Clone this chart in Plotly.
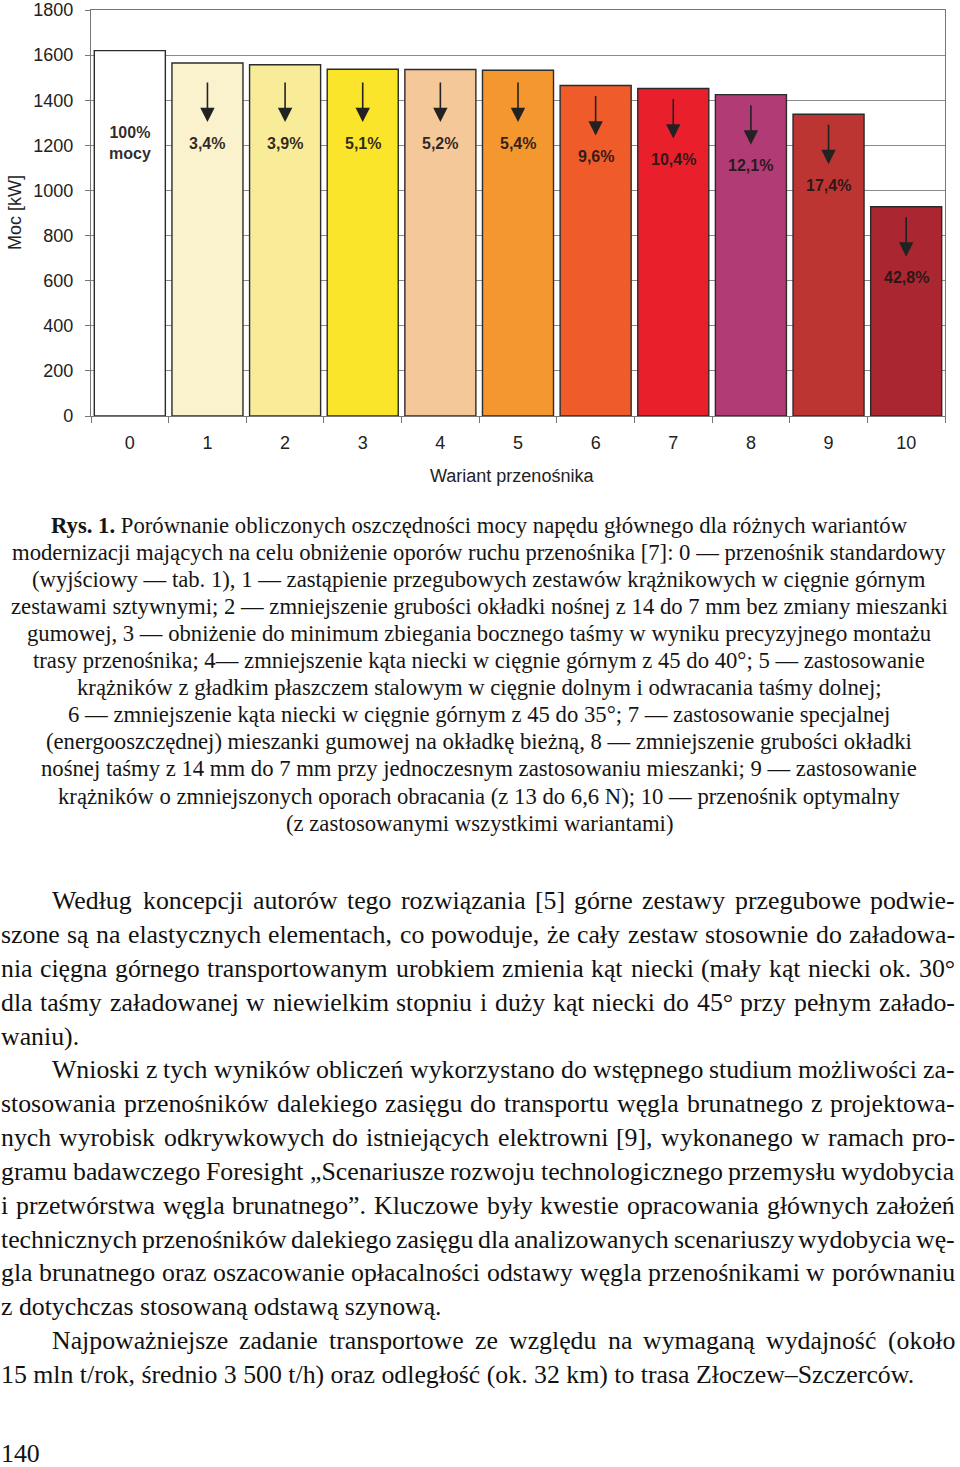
import plotly.graph_objects as go

# ---------------- data ----------------
variants = ["0", "1", "2", "3", "4", "5", "6", "7", "8", "9", "10"]
power_kw = [1620, 1565, 1557, 1537, 1536, 1533, 1465, 1452, 1425, 1338, 928]
saving_labels = ["100%<br>mocy", "3,4%", "3,9%", "5,1%", "5,2%", "5,4%",
                 "9,6%", "10,4%", "12,1%", "17,4%", "42,8%"]
bar_colors = ["#FFFFFF", "#F9F2CC", "#F8EC98", "#FAE52A", "#F5C89A", "#F4972F",
              "#EF5B29", "#EA1F2C", "#B13B74", "#BD3533", "#AA2630"]
y_ticks = [0, 200, 400, 600, 800, 1000, 1200, 1400, 1600, 1800]
y_title = "Moc [kW]"
x_title = "Wariant przenośnika"

caption_lines = [
    "<b>Rys. 1.</b> Porównanie obliczonych oszczędności mocy napędu głównego dla różnych wariantów",
    "modernizacji mających na celu obniżenie oporów ruchu przenośnika [7]: 0 — przenośnik standardowy",
    "(wyjściowy — tab. 1), 1 — zastąpienie przegubowych zestawów krążnikowych w cięgnie górnym",
    "zestawami sztywnymi; 2 — zmniejszenie grubości okładki nośnej z 14 do 7 mm bez zmiany mieszanki",
    "gumowej, 3 — obniżenie do minimum zbiegania bocznego taśmy w wyniku precyzyjnego montażu",
    "trasy przenośnika; 4— zmniejszenie kąta niecki w cięgnie górnym z 45 do 40°; 5 — zastosowanie",
    "krążników z gładkim płaszczem stalowym w cięgnie dolnym i odwracania taśmy dolnej;",
    "6 — zmniejszenie kąta niecki w cięgnie górnym z 45 do 35°; 7 — zastosowanie specjalnej",
    "(energooszczędnej) mieszanki gumowej na okładkę bieżną, 8 — zmniejszenie grubości okładki",
    "nośnej taśmy z 14 mm do 7 mm przy jednoczesnym zastosowaniu mieszanki; 9 — zastosowanie",
    "krążników o zmniejszonych oporach obracania (z 13 do 6,6 N); 10 — przenośnik optymalny",
    "(z zastosowanymi wszystkimi wariantami)",
]

# (text, indent?, justified?)
body_lines = [
    ("Według koncepcji autorów tego rozwiązania [5] górne zestawy przegubowe podwie-", True, True),
    ("szone są na elastycznych elementach, co powoduje, że cały zestaw stosownie do załadowa-", False, True),
    ("nia cięgna górnego transportowanym urobkiem zmienia kąt niecki (mały kąt niecki ok. 30°", False, True),
    ("dla taśmy załadowanej w niewielkim stopniu i duży kąt niecki do 45° przy pełnym załado-", False, True),
    ("waniu).", False, False),
    ("Wnioski z tych wyników obliczeń wykorzystano do wstępnego studium możliwości za-", True, True),
    ("stosowania przenośników dalekiego zasięgu do transportu węgla brunatnego z projektowa-", False, True),
    ("nych wyrobisk odkrywkowych do istniejących elektrowni [9], wykonanego w ramach pro-", False, True),
    ("gramu badawczego Foresight „Scenariusze rozwoju technologicznego przemysłu wydobycia", False, True),
    ("i przetwórstwa węgla brunatnego”. Kluczowe były kwestie opracowania głównych założeń", False, True),
    ("technicznych przenośników dalekiego zasięgu dla analizowanych scenariuszy wydobycia wę-", False, True),
    ("gla brunatnego oraz oszacowanie opłacalności odstawy węgla przenośnikami w porównaniu", False, True),
    ("z dotychczas stosowaną odstawą szynową.", False, False),
    ("Najpoważniejsze zadanie transportowe ze względu na wymaganą wydajność (około", True, True),
    ("15 mln t/rok, średnio 3 500 t/h) oraz odległość (ok. 32 km) to trasa Złoczew–Szczerców.", False, False),
]
page_number = "140"

# ---------------- layout helpers ----------------
PX_L, PX_R, PX_T, PX_B = 91, 945, 10, 416
FIG_W, FIG_H = 960, 1467


def xp(px):
    return (px - PX_L) / (PX_R - PX_L)


def yp(py):
    return (PX_B - py) / (PX_B - PX_T)


# Times New Roman advance widths (1/1000 em)
TW = {" ": 250, "a": 444, "b": 500, "c": 444, "d": 500, "e": 444, "f": 333, "g": 500,
      "h": 500, "i": 278, "j": 278, "k": 500, "l": 278, "m": 778, "n": 500, "o": 500,
      "p": 500, "q": 500, "r": 333, "s": 389, "t": 278, "u": 500, "v": 500, "w": 722,
      "x": 500, "y": 500, "z": 444, "A": 722, "B": 667, "C": 667, "D": 722, "E": 611,
      "F": 556, "G": 722, "H": 722, "I": 333, "J": 389, "K": 722, "L": 611, "M": 889,
      "N": 722, "O": 722, "P": 556, "Q": 722, "R": 667, "S": 556, "T": 611, "U": 722,
      "V": 722, "W": 944, "X": 722, "Y": 722, "Z": 611, ".": 250, ",": 250, ":": 278,
      ";": 278, "-": 333, "(": 333, ")": 333, "[": 333, "]": 333, "/": 278, "°": 400,
      "–": 500, "—": 1000, "„": 444, "”": 444, "%": 833}
for d in "0123456789":
    TW[d] = 500
BASE = {"ą": "a", "ć": "c", "ę": "e", "ł": "l", "ń": "n", "ó": "o", "ś": "s", "ź": "z",
        "ż": "z", "Ł": "L", "Ś": "S", "Ż": "Z", "Ź": "Z"}


def tw(s, size):
    return sum(TW.get(BASE.get(c, c), 500) for c in s) * size / 1000.0


# ---------------- figure ----------------
fig = go.Figure()
fig.add_trace(go.Bar(
    x=variants, y=power_kw,
    marker=dict(color=bar_colors, line=dict(color="#2b2b2b", width=1.4)),
    width=0.915, showlegend=False, hoverinfo="skip",
))

annotations = []
CHART_FONT = "Liberation Sans, Arial, sans-serif"
for i, (v, lab) in enumerate(zip(power_kw, saving_labels)):
    label_y = min(v - 315, 1210)
    annotations.append(dict(x=variants[i], y=label_y, xref="x", yref="y", text=lab,
                            showarrow=False,
                            font=dict(family=CHART_FONT, size=16, weight="bold",
                                      color="rgba(30,22,22,0.92)"),
                            xanchor="center", yanchor="middle"))
    if i > 0:
        annotations.append(dict(x=variants[i], y=label_y, xref="x", yref="y", text="",
                                showarrow=True, ax=0, ay=-62, standoff=21,
                                arrowhead=2, arrowsize=1.8, arrowwidth=1.6,
                                arrowcolor="#222222"))

annotations.append(dict(x=xp(15), y=yp(213), xref="paper", yref="paper", text=y_title,
                        textangle=-90, showarrow=False, xanchor="center", yanchor="middle",
                        font=dict(family=CHART_FONT, size=18, color="#222222")))
annotations.append(dict(x=xp(512), y=yp(476), xref="paper", yref="paper", text=x_title,
                        showarrow=False, xanchor="center", yanchor="middle",
                        font=dict(family=CHART_FONT, size=18, color="#222222")))

SERIF = "Liberation Serif, Times New Roman, serif"
CAP_SIZE = 22.7
for k, line in enumerate(caption_lines):
    annotations.append(dict(x=xp(479), y=yp(525 + 27.1 * k), xref="paper", yref="paper",
                            text=line, showarrow=False, xanchor="center", yanchor="middle",
                            borderpad=0, borderwidth=0,
                            font=dict(family=SERIF, size=CAP_SIZE, color="#151515")))

BODY_SIZE = 25.8
LEFT, INDENT, RIGHT = 1, 52, 955
for k, (line, indent, justify) in enumerate(body_lines):
    y = yp(901 + 33.8 * k)
    x0 = INDENT if indent else LEFT
    words = line.split(" ")
    if justify and len(words) > 1:
        widths = [tw(w, BODY_SIZE) for w in words]
        gap = (RIGHT - x0 - sum(widths)) / (len(words) - 1)
        x = x0
        for j, (w, wd) in enumerate(zip(words, widths)):
            last = j == len(words) - 1
            annotations.append(dict(x=xp(RIGHT if last else x), y=y, xref="paper", yref="paper",
                                    text=w, showarrow=False,
                                    xanchor="right" if last else "left", yanchor="middle",
                                    borderpad=0, borderwidth=0,
                                    font=dict(family=SERIF, size=BODY_SIZE, color="#111111")))
            x += wd + gap
    else:
        annotations.append(dict(x=xp(x0), y=y, xref="paper", yref="paper", text=line,
                                showarrow=False, xanchor="left", yanchor="middle",
                                borderpad=0, borderwidth=0,
                                font=dict(family=SERIF, size=BODY_SIZE, color="#111111")))

annotations.append(dict(x=xp(1), y=yp(1453), xref="paper", yref="paper", text=page_number,
                        showarrow=False, xanchor="left", yanchor="middle",
                        borderpad=0, borderwidth=0,
                        font=dict(family=SERIF, size=BODY_SIZE, color="#111111")))

fig.update_layout(
    width=FIG_W, height=FIG_H,
    margin=dict(l=PX_L, r=FIG_W - PX_R, t=PX_T, b=FIG_H - PX_B),
    paper_bgcolor="white", plot_bgcolor="white",
    bargap=0.085,
    annotations=annotations,
    font=dict(family=CHART_FONT, color="#222222"),
)
fig.update_xaxes(
    type="category", tickson="boundaries", ticks="outside", ticklen=6, tickcolor="#777777",
    showline=True, linecolor="#777777", linewidth=1.2, mirror=True, showgrid=False,
    tickfont=dict(family=CHART_FONT, size=18, color="#222222"), ticklabelstandoff=10,
    automargin=False,
)
fig.update_yaxes(
    range=[0, 1800], tickvals=y_ticks, ticks="outside", ticklen=5, tickcolor="#777777",
    showline=True, linecolor="#777777", linewidth=1.2, mirror=True,
    showgrid=True, gridcolor="#8a8a8a", gridwidth=1, zeroline=False,
    tickfont=dict(family=CHART_FONT, size=18, color="#222222"), ticklabelstandoff=8,
    automargin=False,
)

fig.write_html(
    "out.html",
    config={"displayModeBar": False},
    post_script="document.body.style.margin='0';document.body.style.overflow='hidden';",
)
